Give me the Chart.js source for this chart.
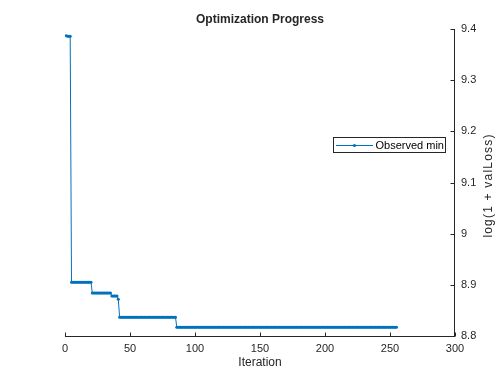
<!DOCTYPE html>
<html><head><meta charset="utf-8">
<script src="https://cdn.jsdelivr.net/npm/chart.js@4/dist/chart.umd.min.js"></script>
<style>html,body{margin:0;padding:0;background:#fff}#wrap{width:504px;height:378px}</style>
</head><body><div id="wrap"><canvas id="c" width="504" height="378"></canvas></div>
<script>
const chartTitle = "Optimization Progress";
const xAxisTitle = "Iteration";
const yAxisTitle = "log(1 + valLoss)";
const seriesName = "Observed min";
const xTicks = [0, 50, 100, 150, 200, 250, 300];
const yTicks = [8.8, 8.9, 9, 9.1, 9.2, 9.3, 9.4];
// observed minimum per iteration (iteration 1..255)
const observedMin = [
  9.387, 9.386, 9.386, 9.386,
  8.905, 8.905, 8.905, 8.905, 8.905, 8.905, 8.905, 8.905, 8.905, 8.905,
  8.905, 8.905, 8.905, 8.905, 8.905, 8.905,
  8.884, 8.884, 8.884, 8.884, 8.884, 8.884, 8.884, 8.884, 8.884, 8.884,
  8.884, 8.884, 8.884, 8.884, 8.884,
  8.878, 8.878, 8.878, 8.878, 8.878,
  8.872,
  8.8365, 8.8365, 8.8365, 8.8365, 8.8365, 8.8365, 8.8365, 8.8365, 8.8365, 8.8365,
  8.8365, 8.8365, 8.8365, 8.8365, 8.8365, 8.8365, 8.8365, 8.8365, 8.8365, 8.8365,
  8.8365, 8.8365, 8.8365, 8.8365, 8.8365, 8.8365, 8.8365, 8.8365, 8.8365, 8.8365,
  8.8365, 8.8365, 8.8365, 8.8365, 8.8365, 8.8365, 8.8365, 8.8365, 8.8365, 8.8365,
  8.8365, 8.8365, 8.8365, 8.8365,
  8.817, 8.817, 8.817, 8.817, 8.817, 8.817, 8.817, 8.817, 8.817, 8.817,
  8.817, 8.817, 8.817, 8.817, 8.817, 8.817, 8.817, 8.817, 8.817, 8.817,
  8.817, 8.817, 8.817, 8.817, 8.817, 8.817, 8.817, 8.817, 8.817, 8.817,
  8.817, 8.817, 8.817, 8.817, 8.817, 8.817, 8.817, 8.817, 8.817, 8.817,
  8.817, 8.817, 8.817, 8.817, 8.817, 8.817, 8.817, 8.817, 8.817, 8.817,
  8.817, 8.817, 8.817, 8.817, 8.817, 8.817, 8.817, 8.817, 8.817, 8.817,
  8.817, 8.817, 8.817, 8.817, 8.817, 8.817, 8.817, 8.817, 8.817, 8.817,
  8.817, 8.817, 8.817, 8.817, 8.817, 8.817, 8.817, 8.817, 8.817, 8.817,
  8.817, 8.817, 8.817, 8.817, 8.817, 8.817, 8.817, 8.817, 8.817, 8.817,
  8.817, 8.817, 8.817, 8.817, 8.817, 8.817, 8.817, 8.817, 8.817, 8.817,
  8.817, 8.817, 8.817, 8.817, 8.817, 8.817, 8.817, 8.817, 8.817, 8.817,
  8.817, 8.817, 8.817, 8.817, 8.817, 8.817, 8.817, 8.817, 8.817, 8.817,
  8.817, 8.817, 8.817, 8.817, 8.817, 8.817, 8.817, 8.817, 8.817, 8.817,
  8.817, 8.817, 8.817, 8.817, 8.817, 8.817, 8.817, 8.817, 8.817, 8.817,
  8.817, 8.817, 8.817, 8.817, 8.817, 8.817, 8.817, 8.817, 8.817, 8.817,
  8.817, 8.817, 8.817, 8.817, 8.817, 8.817, 8.817, 8.817, 8.817, 8.817,
  8.817, 8.817, 8.817, 8.817, 8.817, 8.817, 8.817, 8.817, 8.817, 8.817
];

const LINE = '#0072BD';
const AX = '#262626';
const FONT = '"Liberation Sans", Arial, Helvetica, sans-serif';

const points = observedMin.map((v, i) => ({ x: i + 1, y: v }));

const decor = {
  id: 'decor',
  afterDraw(chart) {
    const ctx = chart.ctx;
    const xs = chart.scales.x, ys = chart.scales.y;
    const a = chart.chartArea;
    ctx.save();
    ctx.strokeStyle = AX; ctx.lineWidth = 1;
    const by = Math.round(a.bottom) + 0.5, rx = Math.round(a.right) - 0.5;
    ctx.beginPath();
    ctx.moveTo(a.left, by); ctx.lineTo(rx + 0.5, by);
    ctx.moveTo(rx, a.top); ctx.lineTo(rx, by);
    xTicks.forEach(v => { const px = Math.round(xs.getPixelForValue(v)) + 0.5; ctx.moveTo(px, by); ctx.lineTo(px, by - 4); });
    yTicks.forEach(v => { const py = Math.round(ys.getPixelForValue(v)) + 0.5; ctx.moveTo(rx, py); ctx.lineTo(rx - 4, py); });
    ctx.stroke();
    ctx.fillStyle = AX;
    ctx.textAlign = 'center'; ctx.textBaseline = 'alphabetic';
    ctx.font = 'bold 12px ' + FONT;
    ctx.fillText(chartTitle, (a.left + a.right) / 2, 23);
    ctx.font = '12px ' + FONT;
    ctx.fillText(xAxisTitle, (a.left + a.right) / 2, 365.5);
    ctx.save();
    ctx.translate(492, (a.top + a.bottom) / 2 + 3);
    ctx.rotate(-Math.PI / 2);
    try { ctx.letterSpacing = '1.2px'; } catch (e) {}
    ctx.fillText(yAxisTitle, 0, 0);
    try { ctx.letterSpacing = '0px'; } catch (e) {}
    ctx.restore();
    ctx.fillStyle = '#fff';
    ctx.fillRect(333.5, 137.5, 112, 15);
    ctx.strokeStyle = AX;
    ctx.strokeRect(333.5, 137.5, 112, 15);
    ctx.strokeStyle = LINE; ctx.lineWidth = 1;
    ctx.beginPath(); ctx.moveTo(336, 145.5); ctx.lineTo(373, 145.5); ctx.stroke();
    ctx.fillStyle = LINE;
    ctx.beginPath(); ctx.arc(354.5, 145.5, 1.6, 0, Math.PI * 2); ctx.fill();
    ctx.fillStyle = '#000';
    ctx.textAlign = 'left'; ctx.textBaseline = 'middle';
    ctx.font = '11px ' + FONT;
    ctx.fillText(seriesName, 375.5, 145.5);
    ctx.restore();
  }
};

new Chart(document.getElementById('c'), {
  type: 'line',
  data: {
    datasets: [{
      label: seriesName,
      data: points,
      borderColor: LINE,
      backgroundColor: LINE,
      borderWidth: 1,
      pointRadius: 1.5,
      pointBorderWidth: 0,
      pointBackgroundColor: LINE,
      tension: 0,
      fill: false
    }]
  },
  options: {
    responsive: false,
    animation: false,
    devicePixelRatio: 1,
    layout: { padding: { left: 65, top: 29, right: 0, bottom: 0 } },
    plugins: { legend: { display: false }, title: { display: false }, tooltip: { enabled: false } },
    scales: {
      x: {
        type: 'linear', min: 0, max: 300,
        afterBuildTicks: s => { s.ticks = xTicks.map(v => ({ value: v })); },
        afterFit: s => { s.height = 42; },
        grid: { display: false, drawTicks: false },
        border: { display: false },
        ticks: { font: { size: 11, family: FONT }, color: AX, padding: 6, maxRotation: 0, autoSkip: false }
      },
      y: {
        type: 'linear', position: 'right', min: 8.8, max: 9.4,
        afterBuildTicks: s => { s.ticks = yTicks.map(v => ({ value: v })); },
        afterFit: s => { s.width = 49; },
        grid: { display: false, drawTicks: false },
        border: { display: false },
        ticks: { font: { size: 11, family: FONT }, color: AX, padding: 6, callback: v => String(Math.round(v * 10) / 10) }
      }
    }
  },
  plugins: [decor]
});
</script>
</body></html>
